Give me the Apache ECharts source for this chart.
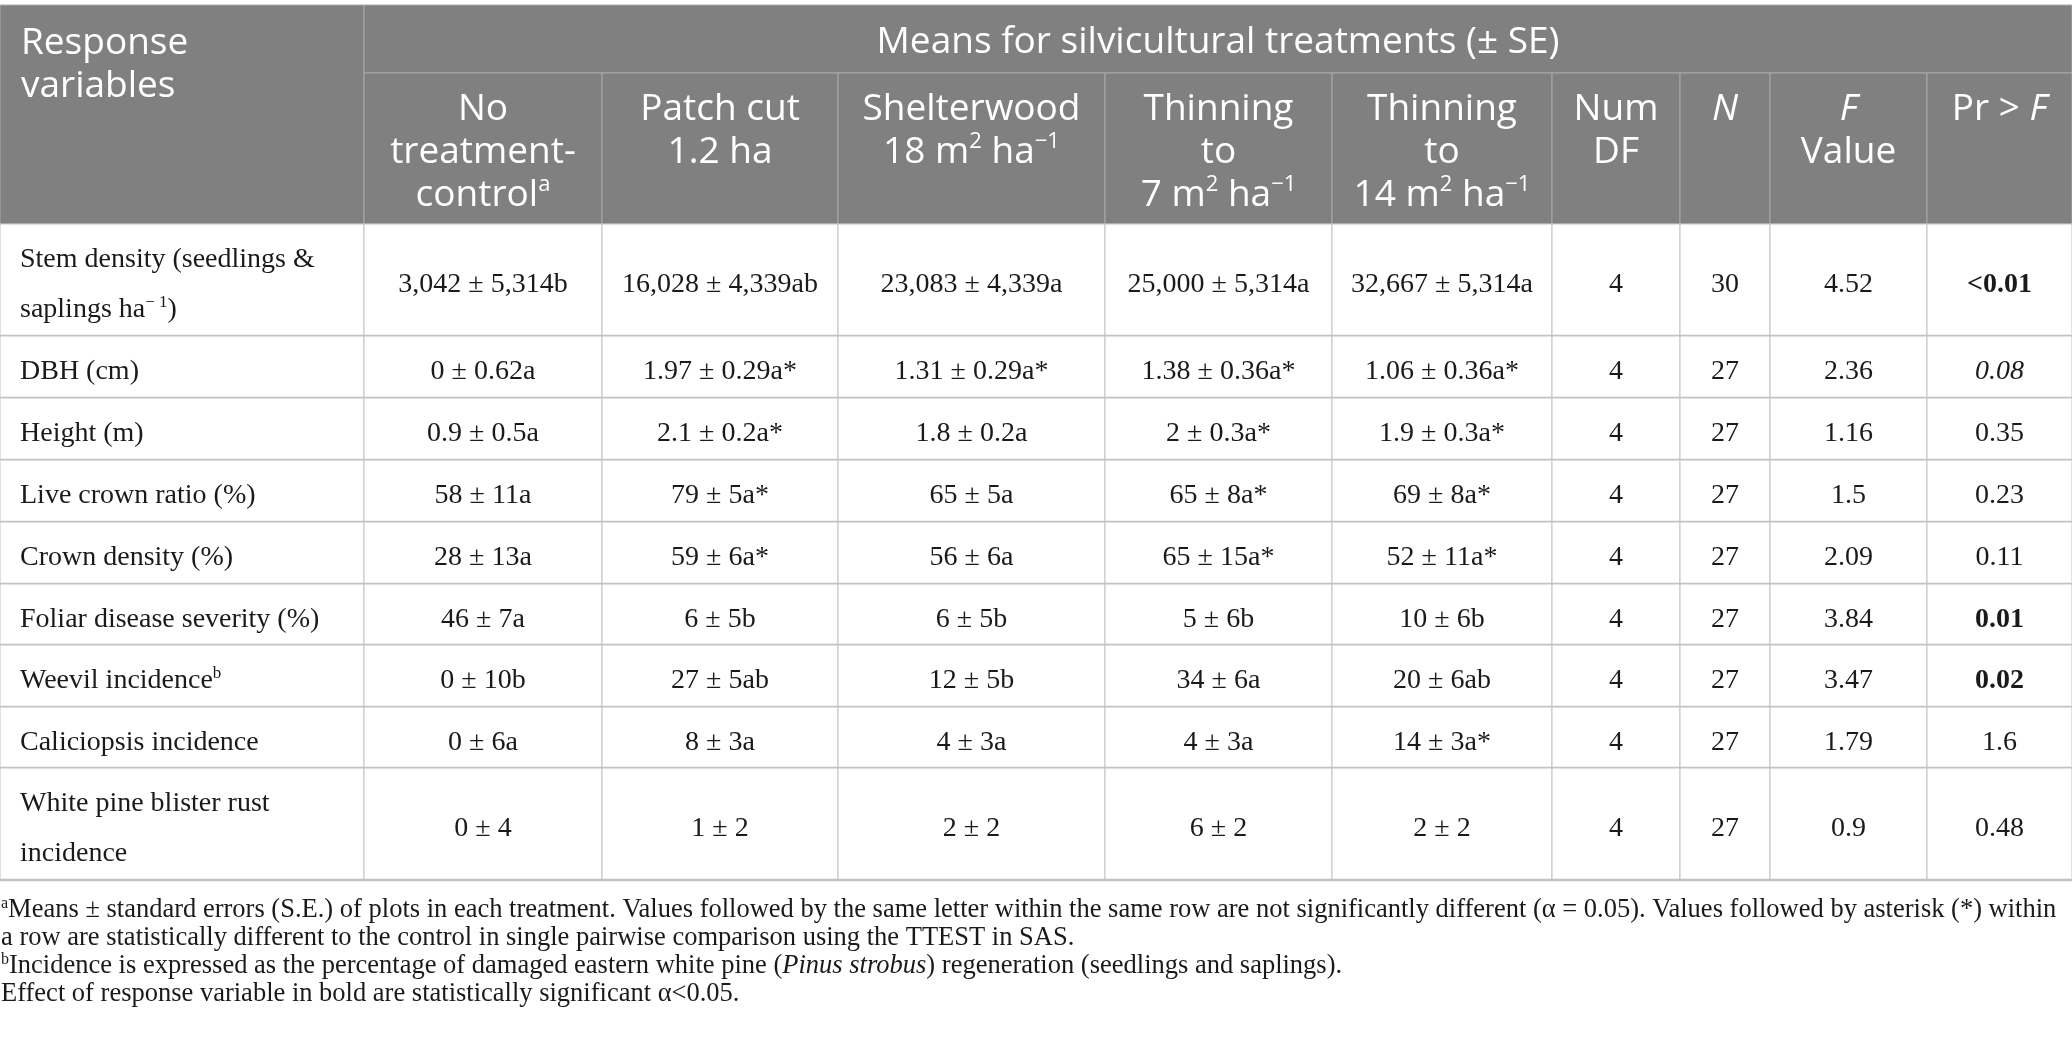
<!DOCTYPE html>
<html>
<head>
<meta charset="utf-8">
<title>Means for silvicultural treatments</title>
<script src="https://cdn.jsdelivr.net/npm/echarts@6/dist/echarts.min.js"></script>
<style>
  html, body { margin: 0; padding: 0; background: #fff; }
  #main { width: 2072px; height: 1047px; }
</style>
</head>
<body>
<div id="main"></div>
<script>
// table content
const spanTitle = 'Means for silvicultural treatments (± SE)';
const stubTitle = 'Response\nvariables';
const colTitles = [
  'No\ntreatment-\ncontrol{hsup|a}',
  'Patch cut\n1.2 ha',
  'Shelterwood\n18 m{hsup|2} ha{hsup|−1}',
  'Thinning\nto\n7 m{hsup|2} ha{hsup|−1}',
  'Thinning\nto\n14 m{hsup|2} ha{hsup|−1}',
  'Num\nDF',
  '{hit|N}',
  '{hit|F}\nValue',
  'Pr > {hit|F}'
];
const variables = [
  'Stem density (seedlings &\nsaplings ha{sup|− 1})',
  'DBH (cm)',
  'Height (m)',
  'Live crown ratio (%)',
  'Crown density (%)',
  'Foliar disease severity (%)',
  'Weevil incidence{sup|b}',
  'Caliciopsis incidence',
  'White pine blister rust\nincidence'
];
const noTreatment = ['3,042 ± 5,314b', '0 ± 0.62a', '0.9 ± 0.5a', '58 ± 11a', '28 ± 13a', '46 ± 7a', '0 ± 10b', '0 ± 6a', '0 ± 4'];
const patchCut = ['16,028 ± 4,339ab', '1.97 ± 0.29a*', '2.1 ± 0.2a*', '79 ± 5a*', '59 ± 6a*', '6 ± 5b', '27 ± 5ab', '8 ± 3a', '1 ± 2'];
const shelterwood = ['23,083 ± 4,339a', '1.31 ± 0.29a*', '1.8 ± 0.2a', '65 ± 5a', '56 ± 6a', '6 ± 5b', '12 ± 5b', '4 ± 3a', '2 ± 2'];
const thinning7 = ['25,000 ± 5,314a', '1.38 ± 0.36a*', '2 ± 0.3a*', '65 ± 8a*', '65 ± 15a*', '5 ± 6b', '34 ± 6a', '4 ± 3a', '6 ± 2'];
const thinning14 = ['32,667 ± 5,314a', '1.06 ± 0.36a*', '1.9 ± 0.3a*', '69 ± 8a*', '52 ± 11a*', '10 ± 6b', '20 ± 6ab', '14 ± 3a*', '2 ± 2'];
const numDF = [4, 4, 4, 4, 4, 4, 4, 4, 4];
const nPlots = [30, 27, 27, 27, 27, 27, 27, 27, 27];
const fValue = ['4.52', '2.36', '1.16', '1.5', '2.09', '3.84', '3.47', '1.79', '0.9'];
const prF = ['<0.01', '0.08', '0.35', '0.23', '0.11', '0.01', '0.02', '1.6', '0.48'];
const prEmphasis = ['b', 'i', '', '', '', 'b', 'b', '', ''];
const footnotes = [
  '{sup|a}Means ± standard errors (S.E.) of plots in each treatment. Values followed by the same letter within the same row are not significantly different (α = 0.05). Values followed by asterisk (*) within',
  'a row are statistically different to the control in single pairwise comparison using the TTEST in SAS.',
  '{sup|b}Incidence is expressed as the percentage of damaged eastern white pine ({it|Pinus strobus}) regeneration (seedlings and saplings).',
  'Effect of response variable in bold are statistically significant α<0.05.'
];

const columns = [variables, noTreatment, patchCut, shelterwood, thinning7, thinning14,
  numDF.map(String), nPlots.map(String), fValue, prF];

// layout (table units = px of the 2072x1047 canvas)
const colEdges = [0, 364, 602, 838, 1105, 1332, 1552, 1680, 1770, 1927, 2072];
const headTop = 5, headMid = 73;
const rowEdges = [224, 336, 398, 460, 522, 584, 645, 707, 768, 880];
const noteTop = 910, noteStep = 28;

const SANS = '"Open Sans", Lato, sans-serif';
const SERIF = '"Liberation Serif", "DejaVu Serif", serif';
const HEAD_BG = '#808080';
const GRID = '#c2c2c2';
const INK = '#1a1a1a';
const HEAD_SIZE = 37, BODY_SIZE = 28, NOTE_SIZE = 26.5;

const headRich = {
  hsup: { fontFamily: SANS, fontSize: 22, verticalAlign: 'top', fill: '#fff' },
  hit: { fontFamily: SANS, fontSize: HEAD_SIZE, fontStyle: 'italic', lineHeight: 43, fill: '#fff' }
};
// superscript: top-aligned token pushed down by a top padding so it sits `raise` px above the line centre
function bodyRich(size, lh, raise) {
  const supSize = Math.round(size * 0.6);
  const padTop = Math.max(0, lh / 2 - raise - supSize / 2);
  return {
    sup: { fontFamily: SERIF, fontSize: supSize, verticalAlign: 'top', padding: [padTop, 0, 0, 0], fill: INK },
    it: { fontFamily: SERIF, fontSize: size, fontStyle: 'italic', lineHeight: lh, fill: INK },
    b: { fontFamily: SERIF, fontSize: size, fontWeight: 'bold', lineHeight: lh, fill: INK },
    i: { fontFamily: SERIF, fontSize: size, fontStyle: 'italic', lineHeight: lh, fill: INK }
  };
}

// cells: [col, row]; row -2 = spanning title, -1 = column titles, 0.. = body, 100.. = footnotes
const cells = [];
cells.push([0, -2]);
cells.push([1, -2]);
colTitles.forEach((t, i) => cells.push([i + 1, -1]));
columns.forEach((col, c) => col.forEach((v, r) => cells.push([c, r])));
footnotes.forEach((f, i) => cells.push([0, 100 + i]));

function renderCell(params, api) {
  const c = api.value(0), r = api.value(1);
  const p = (x, y) => api.coord([x, y]);
  if (r === -2 && c === 0) {
    const a = p(colEdges[0], headTop), b = p(colEdges[1], rowEdges[0]);
    return { type: 'group', children: [
      { type: 'rect', shape: { x: a[0], y: a[1], width: b[0] - a[0], height: b[1] - a[1] },
        style: { fill: HEAD_BG, stroke: '#a9a9a9', lineWidth: 1 } },
      { type: 'text', style: { text: stubTitle, x: a[0] + 21, y: a[1] + 17, fill: '#fff',
        fontFamily: SANS, fontSize: HEAD_SIZE, lineHeight: 43, align: 'left', verticalAlign: 'top' } }
    ] };
  }
  if (r === -2) {
    const a = p(colEdges[1], headTop), b = p(colEdges[colEdges.length - 1], headMid);
    return { type: 'group', children: [
      { type: 'rect', shape: { x: a[0], y: a[1], width: b[0] - a[0], height: b[1] - a[1] },
        style: { fill: HEAD_BG, stroke: '#a9a9a9', lineWidth: 1 } },
      { type: 'text', style: { text: spanTitle, x: (a[0] + b[0]) / 2, y: (a[1] + b[1]) / 2 + 3, fill: '#fff',
        fontFamily: SANS, fontSize: HEAD_SIZE, align: 'center', verticalAlign: 'middle' } }
    ] };
  }
  if (r === -1) {
    const a = p(colEdges[c], headMid), b = p(colEdges[c + 1], rowEdges[0]);
    return { type: 'group', children: [
      { type: 'rect', shape: { x: a[0], y: a[1], width: b[0] - a[0], height: b[1] - a[1] },
        style: { fill: HEAD_BG, stroke: '#a9a9a9', lineWidth: 1 } },
      { type: 'text', style: { text: colTitles[c - 1], x: (a[0] + b[0]) / 2, y: a[1] + 15, fill: '#fff',
        fontFamily: SANS, fontSize: HEAD_SIZE, lineHeight: 43, align: 'center', verticalAlign: 'top', rich: headRich } }
    ] };
  }
  if (r >= 100) {
    const i = r - 100;
    const a = p(1, noteTop + i * noteStep);
    return { type: 'text', style: { text: footnotes[i], x: a[0], y: a[1], fill: INK,
      fontFamily: SERIF, fontSize: NOTE_SIZE, lineHeight: 28, align: 'left', verticalAlign: 'middle',
      rich: bodyRich(NOTE_SIZE, 28, 6) } };
  }
  const a = p(colEdges[c], rowEdges[r]), b = p(colEdges[c + 1], rowEdges[r + 1]);
  let txt = columns[c][r];
  if (c === 9 && prEmphasis[r]) txt = '{' + prEmphasis[r] + '|' + txt + '}';
  const left = c === 0;
  return { type: 'group', children: [
    { type: 'rect', shape: { x: a[0], y: a[1], width: b[0] - a[0], height: b[1] - a[1] },
      style: { fill: '#fff', stroke: GRID, lineWidth: 1 } },
    { type: 'line', shape: { x1: a[0], y1: b[1], x2: b[0], y2: b[1] },
      style: { stroke: GRID, lineWidth: 2.5 } },
    { type: 'text', style: { text: txt, x: left ? a[0] + 20 : (a[0] + b[0]) / 2, y: (a[1] + b[1]) / 2 + 5,
      fill: INK, fontFamily: SERIF, fontSize: BODY_SIZE, lineHeight: 50,
      align: left ? 'left' : 'center', verticalAlign: 'middle', rich: bodyRich(BODY_SIZE, 50, 7) } }
  ] };
}

const chart = echarts.init(document.getElementById('main'), null, { renderer: 'canvas' });
chart.setOption({
  animation: false,
  backgroundColor: '#fff',
  grid: { left: 0, right: 0, top: 0, bottom: 0 },
  xAxis: { type: 'value', min: 0, max: 2072, show: false },
  yAxis: { type: 'value', min: 0, max: 1047, inverse: true, show: false },
  series: [{
    type: 'custom',
    coordinateSystem: 'cartesian2d',
    renderItem: renderCell,
    clip: false,
    silent: true,
    data: cells
  }]
});
window.addEventListener('resize', function () { chart.resize(); });
</script>
</body>
</html>
